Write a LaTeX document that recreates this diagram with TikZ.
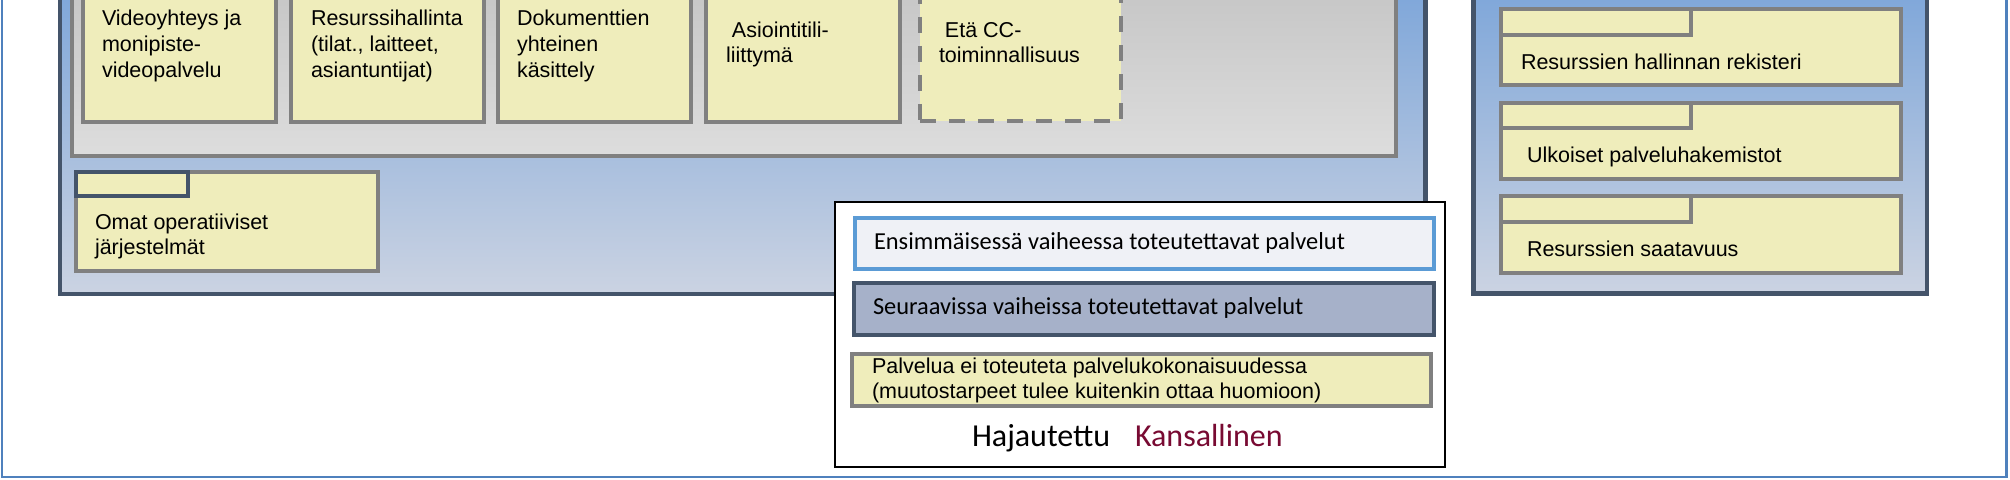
\documentclass[tikz,border=0pt]{standalone}
\usepackage{fontspec}
\setmainfont{Liberation Sans}
\newfontfamily\calib{Carlito}
\usetikzlibrary{fit}
\definecolor{ylw}{HTML}{EFEDBB}
\definecolor{grb}{HTML}{808080}
\definecolor{slate}{HTML}{44546A}
\definecolor{frameblue}{HTML}{4F81BD}
\definecolor{lblue}{HTML}{5B9BD5}
\definecolor{itemone}{HTML}{EFF1F6}
\definecolor{itemtwo}{HTML}{A6B1C9}
\definecolor{kans}{HTML}{780A32}
\definecolor{pantop}{HTML}{7CA5D9}
\definecolor{panmid}{HTML}{B1C2DD}
\definecolor{panbot}{HTML}{CBD3E2}
\definecolor{graytop}{HTML}{C5C5C5}
\definecolor{graybot}{HTML}{DDDDDD}
\newcommand{\mlines}[1]{\begin{tabular}[t]{@{}l@{}}#1\end{tabular}}
\begin{document}
\begin{tikzpicture}[x=0.5pt,y=-0.5pt,
  every node/.style={inner sep=0pt, outer sep=0pt},
  outerframe/.style={draw=frameblue, line width=1.3pt},
  bluepanel/.style={draw=slate, line width=2.2pt, top color=pantop, middle color=panmid, bottom color=panbot},
  graypanel/.style={draw=grb, line width=2pt, top color=graytop, bottom color=graybot},
  ybox/.style={draw=grb, fill=ylw, line width=2pt},
  dbox/.style={ybox, dash pattern=on 8pt off 6.5pt},
  stab/.style={draw=slate, fill=ylw, line width=2pt},
  gtab/.style={draw=grb, fill=ylw, line width=2pt},
  legendbox/.style={draw=black, fill=white, line width=1pt},
  legone/.style={draw=lblue, fill=itemone, line width=2pt},
  legtwo/.style={draw=slate, fill=itemtwo, line width=2pt},
  txt/.style={anchor=base west, font=\fontsize{10.75}{13}\selectfont},
  txttight/.style={anchor=base west, font=\fontsize{10.75}{12.5}\selectfont},
  legtxt/.style={anchor=base west, font=\calib\fontsize{12.2}{14}\selectfont},
  bigtxt/.style={anchor=base west, font=\calib\fontsize{16}{18}\selectfont}
]
\useasboundingbox (0,0) rectangle (2010,480);
\clip (0,0) rectangle (2010,480);

% outer frame
\node[outerframe, fit={(2,-30) (2006.5,477)}] (frame) {};

% main panel
\node[bluepanel, fit={(60,-20) (1425.5,294)}] (main) {};
\node[graypanel, fit={(72,-20) (1395.5,156)}] (grayp) {};

% service boxes
\node[ybox, fit={(83,-20) (276,122.5)}] (b1) {};
\node[ybox, fit={(291,-20) (484,122.5)}] (b2) {};
\node[ybox, fit={(498,-20) (691,122.5)}] (b3) {};
\node[ybox, fit={(706,-20) (900,122.5)}] (b4) {};
\node[dbox, fit={(920,-20) (1121,121)}] (b5) {};

\node[txt] (t1) at (102,26) {\mlines{Videoyhteys ja\\monipiste-\\videopalvelu}};
\node[txt] (t2) at (311,26) {\mlines{Resurssihallinta\\(tilat., laitteet,\\asiantuntijat)}};
\node[txt] (t3) at (517,26) {\mlines{Dokumenttien\\yhteinen\\käsittely}};
\node[txttight] (t4) at (726,38) {\mlines{\ Asiointitili-\\liittymä}};
\node[txttight] (t5) at (939,38) {\mlines{\ Etä CC-\\toiminnallisuus}};

% own operative systems
\node[ybox, fit={(75.5,172) (378,271)}] (omat) {};
\node[stab, fit={(75.5,172) (187.5,196)}] (omattab) {};
\node[txttight] (tomat) at (95,230) {\mlines{Omat operatiiviset\\järjestelmät}};

% right panel
\node[bluepanel, fit={(1473.5,-20) (1927,293.5)}] (rightp) {};
\node[ybox, fit={(1500.5,9) (1900.5,85)}] (ra) {};
\node[gtab, fit={(1500.5,9) (1690.5,35)}] (ratab) {};
\node[txt] (tra) at (1521,70) {Resurssien hallinnan rekisteri};
\node[ybox, fit={(1500.5,103) (1900.5,179)}] (rb) {};
\node[gtab, fit={(1500.5,103) (1690.5,128.5)}] (rbtab) {};
\node[txt] (trb) at (1527,163) {Ulkoiset palveluhakemistot};
\node[ybox, fit={(1500.5,196.5) (1900.5,273)}] (rc) {};
\node[gtab, fit={(1500.5,196.5) (1690.5,222)}] (rctab) {};
\node[txt] (trc) at (1527,257) {Resurssien saatavuus};

% legend
\node[legendbox, fit={(835,202) (1444.5,467)}] (legend) {};
\node[legone, fit={(854.5,218) (1433.5,269)}] (l1) {};
\node[legtxt] (tl1) at (874,250) {Ensimmäisessä vaiheessa toteutettavat palvelut};
\node[legtwo, fit={(854,283) (1433.5,335)}] (l2) {};
\node[legtxt] (tl2) at (873,315) {Seuraavissa vaiheissa toteutettavat palvelut};
\node[ybox, fit={(852,354) (1431,406)}] (l3) {};
\node[txttight] (tl3) at (872,374) {\mlines{Palvelua ei toteuteta palvelukokonaisuudessa\\(muutostarpeet tulee kuitenkin ottaa huomioon)}};
\node[bigtxt] (haj) at (972,447) {Hajautettu};
\node[bigtxt, text=kans] (kan) at (1135,447) {Kansallinen};
\end{tikzpicture}
\end{document}
